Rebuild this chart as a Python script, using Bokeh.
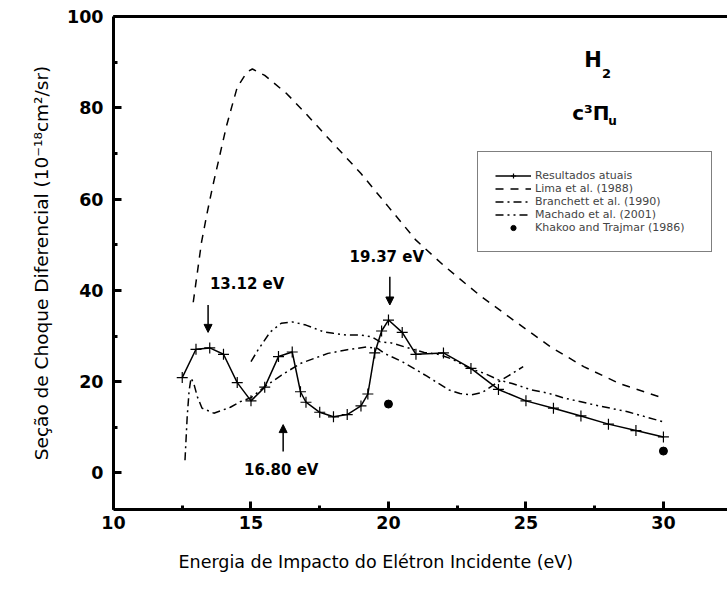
from bokeh.plotting import figure
from bokeh.models import (Range1d, SingleIntervalTicker, LinearAxis, FixedTicker,
                          Legend, LegendItem, Arrow, NormalHead, Title)
from bokeh.core.properties import value
from bokeh.embed import file_html
from bokeh.resources import INLINE

# ---- data ----
res_x = [12.5, 13.0, 13.5, 14.0, 14.5, 15.0, 15.5, 16.0, 16.5, 16.8, 17.0, 17.5, 18.0, 18.5,
         19.0, 19.25, 19.5, 19.75, 20.0, 20.5, 21.0, 22.0, 23.0, 24.0, 25.0, 26.0, 27.0,
         28.0, 29.0, 30.0]
res_y = [20.9, 27.1, 27.4, 26.0, 19.8, 15.8, 18.8, 25.5, 26.5, 17.8, 15.5, 13.3, 12.3, 12.8,
         14.7, 17.3, 26.3, 31.1, 33.5, 30.8, 26.0, 26.3, 22.9, 18.3, 15.8, 14.2, 12.5,
         10.7, 9.3, 7.9]

lima_x = [12.9, 13.2, 13.4, 13.6, 13.85, 14.1, 14.3, 14.5, 14.85, 15.05, 15.5, 16.3, 17.0,
          18.0, 19.0, 20.0, 21.0, 22.0, 23.3, 24.7, 25.9, 27.1, 28.4, 30.0]
lima_y = [37.4, 50.5, 56.8, 62.6, 69.2, 75.8, 80.2, 84.5, 87.8, 88.5, 87.1, 83.1, 78.7,
          72.1, 65.6, 58.3, 51.0, 45.5, 39.0, 32.8, 27.6, 23.3, 19.6, 16.4]

bran_x = [12.6, 12.68, 12.75, 12.82, 12.92, 13.05, 13.22, 13.65, 14.25, 14.6, 15.0, 15.5,
          16.1, 16.8, 17.8, 18.5, 19.2, 19.6, 19.85, 20.5, 21.4, 22.2, 22.6, 23.0, 23.4,
          23.9, 24.5, 24.9]
bran_y = [2.8, 12.3, 18.0, 20.8, 19.6, 16.7, 14.2, 13.1, 14.4, 15.6, 16.5, 18.9, 21.4,
          24.0, 26.2, 27.0, 27.6, 27.3, 26.2, 24.4, 21.2, 18.2, 17.4, 17.1, 17.6, 19.6,
          21.8, 23.3]

mach_x = [15.0, 15.25, 15.7, 16.1, 16.5, 17.0, 17.65, 18.0, 18.5, 19.0, 19.4, 19.7, 20.1,
          20.6, 21.3, 21.8, 22.3, 23.0, 23.5, 24.0, 24.5, 25.2, 25.8, 26.4, 27.0, 27.5,
          28.7, 30.0]
mach_y = [24.4, 26.9, 30.9, 32.8, 33.1, 32.4, 30.9, 30.6, 30.2, 30.2, 29.8, 28.7, 28.5,
          27.6, 26.4, 26.0, 25.0, 22.8, 21.8, 20.4, 19.6, 18.2, 17.5, 16.4, 15.6, 14.9,
          13.4, 11.2]

khak_x = [20.0, 30.0]
khak_y = [15.1, 4.8]

labels = ["Resultados atuais", "Lima et al. (1988)", "Branchett et al. (1990)",
          "Machado et al. (2001)", "Khakoo and Trajmar (1986)"]

x_ticks = [10, 15, 20, 25, 30]
y_ticks = [0, 20, 40, 60, 80, 100]

# annotations: label text, label position, arrow start/end
ann_text = ["13.12 eV", "19.37 eV", "16.80 eV"]
ann_tx = [14.86, 19.94, 16.1]
ann_ty = [41.5, 47.3, 0.7]
arr_x = [13.44, 20.05, 16.17]
arr_y0 = [36.8, 43.0, 4.7]
arr_y1 = [30.8, 36.8, 10.6]

FONT = "DejaVu Sans"

p = figure(width=727, height=597, output_backend="svg", toolbar_location=None,
           x_range=Range1d(10, 32.33), y_range=Range1d(-8, 100),
           min_border_left=113, min_border_right=0, min_border_top=16, min_border_bottom=88,
           outline_line_color=None, background_fill_color="white")
p.grid.visible = False

xa = p.xaxis[0]
xa.ticker = SingleIntervalTicker(interval=5, num_minor_ticks=2)
ya = p.yaxis[0]
ya.ticker = SingleIntervalTicker(interval=20, num_minor_ticks=2)
for ax in (xa, ya):
    ax.axis_line_width = 3
    ax.major_tick_in = 8
    ax.major_tick_out = 0
    ax.minor_tick_in = 4
    ax.minor_tick_out = 0
    ax.major_tick_line_width = 3
    ax.minor_tick_line_width = 3
    ax.major_label_text_font = FONT
    ax.major_label_text_font_style = "bold"
    ax.major_label_text_font_size = "17.5px"
    ax.major_label_text_color = "black"
    ax.axis_label_text_font = FONT
    ax.axis_label_text_font_style = "normal"
    ax.axis_label_text_font_size = "18.5px"
    ax.axis_label_text_color = "black"
xa.major_label_standoff = 6
ya.axis_label = "Seção de Choque Diferencial (10⁻¹⁸cm²/sr)"
ya.major_label_standoff = 10
ya.axis_label_standoff = 12

xlabel = Title(text="Energia de Impacto do Elétron Incidente (eV)", align="left", offset=65,
               text_font=FONT, text_font_style="normal", text_font_size="17.5px",
               text_color="black", standoff=36, vertical_align="bottom")
p.add_layout(xlabel, "below")

top = LinearAxis(ticker=FixedTicker(ticks=[]), major_label_text_font_size="0px",
                 axis_line_width=3, major_tick_out=0, minor_tick_out=0,
                 major_tick_in=0, minor_tick_in=0, major_label_standoff=0)
p.add_layout(top, "above")

r_res = p.line(res_x, res_y, line_color="black", line_width=1.5)
r_resm = p.scatter(res_x, res_y, marker="cross", size=11, line_color="black", line_width=1.2)
r_lima = p.line(lima_x, lima_y, line_color="black", line_width=1.5, line_dash="8 7")
r_bran = p.line(bran_x, bran_y, line_color="black", line_width=1.5, line_dash="8 4 2 4")
r_mach = p.line(mach_x, mach_y, line_color="black", line_width=1.5, line_dash="8 4 2 4 2 4")
r_khak = p.scatter(khak_x, khak_y, marker="circle", size=8, fill_color="black", line_color="black")

legend = Legend(items=[
    LegendItem(label=labels[0], renderers=[r_res, r_resm]),
    LegendItem(label=labels[1], renderers=[r_lima]),
    LegendItem(label=labels[2], renderers=[r_bran]),
    LegendItem(label=labels[3], renderers=[r_mach]),
    LegendItem(label=labels[4], renderers=[r_khak]),
], location=(364, 257), border_line_color="black", border_line_width=1.5,
    background_fill_color="white", background_fill_alpha=1.0,
    label_text_font=FONT, label_text_font_size="11px", label_height=13,
    glyph_height=13, glyph_width=36, label_standoff=4, spacing=0, padding=17,
    label_width=159, margin=0)
p.add_layout(legend, "center")

p.text(x=ann_tx, y=ann_ty, text=ann_text, text_font=value(FONT), text_font_style="bold",
       text_font_size="15px", text_align="center", text_baseline="middle", text_color="black")
for x0, y0, y1 in zip(arr_x, arr_y0, arr_y1):
    p.add_layout(Arrow(x_start=x0, y_start=y0, x_end=x0, y_end=y1, line_width=1.5,
                       end=NormalHead(size=8, fill_color="black", line_color="black")))

# molecule / state labels
p.text(x=[27.44], y=[90.4], text=["H"], text_font=value(FONT), text_font_style="bold",
       text_font_size="21px", text_align="center", text_baseline="middle")
p.text(x=[27.93], y=[87.6], text=["2"], text_font=value(FONT), text_font_style="bold",
       text_font_size="13px", text_align="center", text_baseline="middle")
p.text(x=[27.36], y=[78.8], text=["c³Π"], text_font=value(FONT), text_font_style="bold",
       text_font_size="20px", text_align="center", text_baseline="alphabetic")
p.text(x=[28.15], y=[77.0], text=["u"], text_font=value(FONT), text_font_style="bold",
       text_font_size="12px", text_align="center", text_baseline="middle")

open("out.html", "w").write(file_html(p, INLINE))
